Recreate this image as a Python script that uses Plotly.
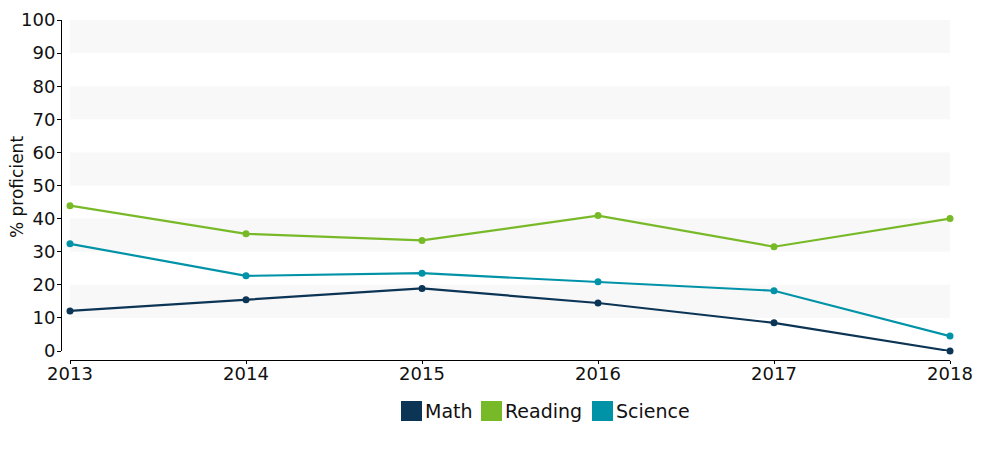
import plotly.graph_objects as go

years = [2013, 2014, 2015, 2016, 2017, 2018]
math = [12.1, 15.5, 18.9, 14.5, 8.5, 0]
reading = [43.9, 35.4, 33.4, 40.9, 31.5, 40.0]
science = [32.4, 22.7, 23.5, 20.9, 18.2, 4.5]

names = ["Math", "Reading", "Science"]
colors = ["#0b3455", "#78b928", "#0093a7"]
values = [math, reading, science]
band_starts = [10, 30, 50, 70, 90]

W, H = 1000, 450
ML, MR, MT, MB = 61, 50, 20, 90
PW, PH = W - ML - MR, H - MT - MB


def px_x(p):
    return (p - ML) / PW


def px_y(p):
    return (H - MB - p) / PH


fig = go.Figure()
for name, vals, col in zip(names, values, colors):
    fig.add_trace(go.Scatter(x=years, y=vals, mode="lines+markers", name=name,
                             line=dict(color=col, width=2.2), marker=dict(color=col, size=7),
                             cliponaxis=False, showlegend=False))

shapes = []
for b in band_starts:
    shapes.append(dict(type="rect", xref="x domain", yref="y", x0=0, x1=1, y0=b, y1=b + 10,
                       fillcolor="#f8f8f8", line=dict(width=0), layer="below"))

annotations = []
# legend (squares + labels)
legend_sq_x = [401, 481, 592]
for x0, name, col in zip(legend_sq_x, names, colors):
    shapes.append(dict(type="rect", xref="paper", yref="paper",
                       x0=px_x(x0), x1=px_x(x0 + 21), y0=px_y(421), y1=px_y(401),
                       fillcolor=col, line=dict(width=0)))
    annotations.append(dict(text=name, xref="paper", yref="paper", x=px_x(x0 + 22), y=px_y(411),
                            xanchor="left", yanchor="middle", showarrow=False,
                            font=dict(size=19, color="#111")))

# y axis title
annotations.append(dict(text="% proficient", xref="paper", yref="paper", x=px_x(17), y=px_y(187),
                        xanchor="center", yanchor="middle", textangle=-90, showarrow=False,
                        font=dict(size=17, color="#111")))

fig.update_layout(
    width=W, height=H,
    margin=dict(l=ML, r=MR, t=MT, b=MB, autoexpand=False),
    plot_bgcolor="white", paper_bgcolor="white",
    font=dict(family="DejaVu Sans, Verdana, sans-serif", size=18, color="#111"),
    shapes=shapes, annotations=annotations, showlegend=False,
    xaxis=dict(range=[2013, 2018], domain=[9 / PW, 1], anchor="free", position=0, automargin=False,
               showgrid=False, zeroline=False, showline=True, linecolor="#000", linewidth=1,
               ticks="outside", ticklen=3, tickcolor="#000", tickvals=years, ticktext=[str(y) for y in years],
               tickfont=dict(size=18), ticklabelstandoff=-6),
    yaxis=dict(range=[0, 100], domain=[9 / PH, 1], anchor="free", position=0, automargin=False,
               showgrid=False, zeroline=False, showline=True, linecolor="#000", linewidth=1,
               ticks="outside", ticklen=4, tickcolor="#000", dtick=10, tickfont=dict(size=18),
               ticklabelstandoff=-2),
)
fig.write_html("out.html")
